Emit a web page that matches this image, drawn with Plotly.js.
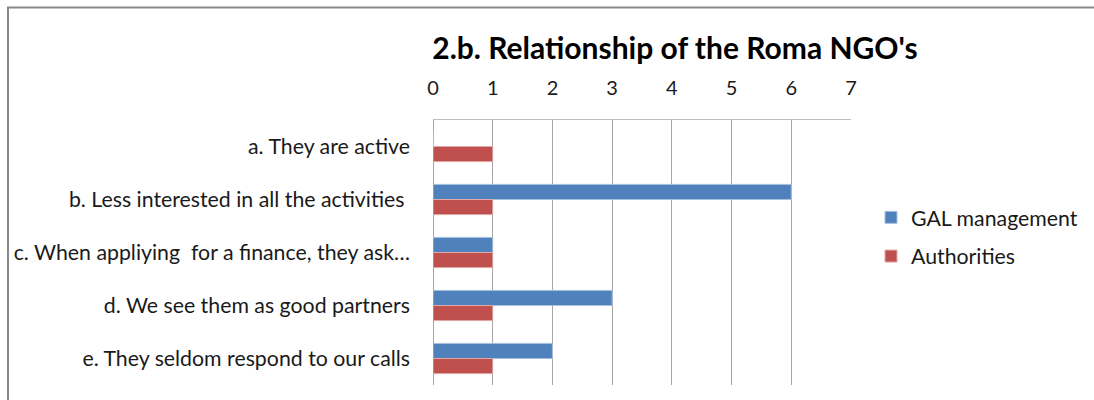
<!DOCTYPE html>
<html>
<head>
<meta charset="utf-8">
<script src="https://cdn.plot.ly/plotly-3.0.1.min.js"></script>
<style>html,body{margin:0;padding:0;background:#fff;}#chart{width:1094px;height:400px;}</style>
</head>
<body>
<div id="chart"></div>
<script>
var categories = [
  "a. They are active",
  "b. Less interested in all the activities ",
  "c. When appliying  for a finance, they ask…",
  "d. We see them as good partners",
  "e. They seldom respond to our calls"
];
var seriesNames = ["GAL management", "Authorities"];
var galValues = [0, 6, 1, 3, 2];
var authValues = [1, 1, 1, 1, 1];
var xTicks = [0, 1, 2, 3, 4, 5, 6, 7];

var W = 1094, H = 400;
var m = {l: 433, r: 243, t: 120, b: 15, autoexpand: false};
var pw = W - m.l - m.r, ph = H - m.t - m.b;
function px(x){ return (x - m.l) / pw; }
function py(y){ return (H - m.b - y) / ph; }

var font = "Lato, 'Open Sans', sans-serif";
var fs = 21.3;
var traces = [
  {type: 'bar', orientation: 'h', name: seriesNames[0], y: categories, x: galValues,
   legendgroup: 'g1',
   marker: {color: '#4F81BD', line: {color: '#A7C0DE', width: 1}}},
  {type: 'bar', orientation: 'h', name: seriesNames[1], y: categories, x: authValues,
   legendgroup: 'g2',
   marker: {color: '#C0504D', line: {color: '#E0A8A6', width: 1}}}
];

var layout = {
  width: W, height: H,
  margin: m,
  paper_bgcolor: '#fff', plot_bgcolor: '#fff',
  font: {family: font, size: fs, color: '#1a1a1a'},
  barmode: 'group',
  bargap: 0.43,
  bargroupgap: 0,
  title: {text: "<b>2.b. Relationship of the Roma NGO's</b>", font: {family: font, size: 30, color: '#000'},
          x: 675 / W, xref: 'container', xanchor: 'center', y: 1 - 48 / H, yref: 'container', yanchor: 'middle'},
  xaxis: {side: 'top', range: [0, 7], tickvals: xTicks, ticktext: xTicks.map(String),
          showgrid: true, gridcolor: '#a6a6a6', gridwidth: 1,
          zeroline: true, zerolinecolor: '#a6a6a6', zerolinewidth: 1,
          showline: true, linecolor: '#bfbfbf', linewidth: 1,
          ticks: '', ticklabelstandoff: 16, fixedrange: true, automargin: false,
          tickfont: {family: font, size: 20, color: '#1a1a1a'}},
  yaxis: {autorange: 'reversed', type: 'category', ticks: '', showgrid: false,
          showline: false, zeroline: false, ticklabelstandoff: 22, automargin: false,
          tickfont: {family: font, size: fs, color: '#1a1a1a'}},
  legend: {x: px(871), y: py(197), xanchor: 'left', yanchor: 'top',
           traceorder: 'grouped', tracegroupgap: 8,
           font: {family: font, size: fs, color: '#1a1a1a'}, bgcolor: 'rgba(0,0,0,0)'},
  shapes: [
    {type: 'line', xref: 'paper', yref: 'paper', x0: px(7), x1: px(1094), y0: py(7.5), y1: py(7.5),
     line: {color: '#888', width: 2}},
    {type: 'line', xref: 'paper', yref: 'paper', x0: px(8), x1: px(8), y0: py(7), y1: py(400),
     line: {color: '#888', width: 2}}
  ],
  showlegend: true
};

Plotly.newPlot('chart', traces, layout, {displayModeBar: false, staticPlot: true});
</script>
</body>
</html>
